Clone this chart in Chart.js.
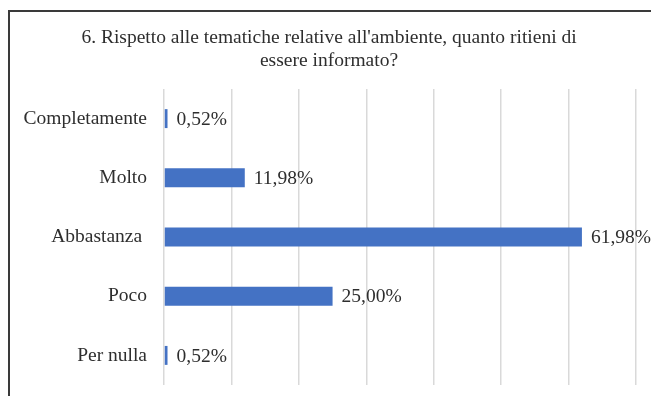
<!DOCTYPE html>
<html>
<head>
<meta charset="utf-8">
<script src="https://cdn.jsdelivr.net/npm/chart.js@4"></script>
<style>
    html, body { margin: 0; padding: 0; background: #fff; }
    #wrap { position: relative; width: 651px; height: 396px; overflow: hidden; }
    #frame {
        position: absolute; left: 8px; top: 10px; width: 700px; height: 450px;
        border-left: 2px solid #3a3a3a; border-top: 2px solid #3a3a3a;
    }
    canvas { position: absolute; left: 0; top: 0; }
</style>
</head>
<body>
<div id="wrap">
    <div id="frame"></div>
    <canvas id="chart" width="651" height="396"></canvas>
</div>
<script>
// -- Data --
const TITLE_LINES = ["6. Rispetto alle tematiche relative all'ambiente, quanto ritieni di", "essere informato?"];
const CATEGORIES = ["Completamente", "Molto", "Abbastanza ", "Poco", "Per nulla"];
const PERCENTAGES = [0.52, 11.98, 61.98, 25.00, 0.52];
const AXIS_MIN = 0;
const AXIS_MAX = 70;
const AXIS_STEP = 10;

const FONT_FAMILY = "'Liberation Serif', 'Times New Roman', serif";
const FONT_SIZE = 19.5;
const TEXT_COLOR = '#2e2e2e';

// formats 61.98 -> "61,98%"
function formatPct(v) {
    return v.toFixed(2).replace('.', ',') + '%';
}

// draws the value next to the end of each bar
const valueLabels = {
    id: 'valueLabels',
    afterDatasetsDraw(chart) {
        const ctx = chart.ctx;
        const meta = chart.getDatasetMeta(0);
        ctx.save();
        ctx.font = FONT_SIZE + 'px ' + FONT_FAMILY;
        ctx.fillStyle = TEXT_COLOR;
        ctx.textAlign = 'left';
        ctx.textBaseline = 'middle';
        meta.data.forEach((bar, i) => {
            ctx.fillText(formatPct(chart.data.datasets[0].data[i]), bar.x + 9, bar.y + 1);
        });
        ctx.restore();
    }
};

const ctx = document.getElementById('chart').getContext('2d');
new Chart(ctx, {
    type: 'bar',
    data: {
        labels: CATEGORIES,
        datasets: [{
            data: PERCENTAGES,
            backgroundColor: '#4472C4',
            barPercentage: 0.32,
            categoryPercentage: 1
        }]
    },
    options: {
        indexAxis: 'y',
        responsive: false,
        animation: false,
        layout: { padding: { left: 22, right: 15, top: 0, bottom: 11 } },
        plugins: {
            legend: { display: false },
            tooltip: { enabled: false },
            title: {
                display: true,
                text: TITLE_LINES,
                color: TEXT_COLOR,
                font: { family: FONT_FAMILY, size: FONT_SIZE, weight: 'normal', lineHeight: 1.18 },
                padding: { top: 26, bottom: 17 }
            }
        },
        scales: {
            x: {
                min: AXIS_MIN,
                max: AXIS_MAX,
                ticks: { display: false, stepSize: AXIS_STEP },
                grid: { color: '#d9d9d9', lineWidth: 1.5, drawTicks: false },
                border: { display: false },
                afterFit(scale) { scale.height = 0; }
            },
            y: {
                ticks: {
                    color: TEXT_COLOR,
                    font: { family: FONT_FAMILY, size: FONT_SIZE },
                    padding: 17
                },
                grid: { display: false, drawTicks: false },
                border: { display: false },
                afterFit(scale) {
                    // the tick padding is only meant as the gap to the bars, not above/below
                    scale.width = 142;
                    scale.paddingTop = 0;
                    scale.paddingBottom = 0;
                }
            }
        }
    },
    plugins: [valueLabels]
});
</script>
</body>
</html>
